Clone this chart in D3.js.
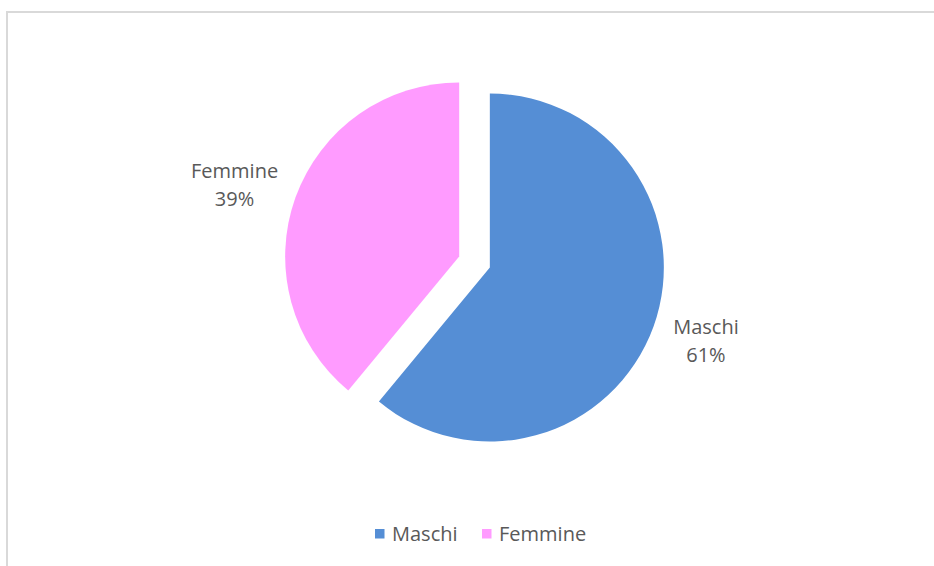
<!DOCTYPE html>
<html><head><meta charset="utf-8">
<script src="https://cdn.jsdelivr.net/npm/d3@7"></script>
<style>body{margin:0;background:#fff}svg{display:block}</style>
</head><body>
<svg id="c" width="934" height="566"></svg>
<script>
const categories = ["Maschi", "Femmine"];
const values = [61, 39];
const labels = ["61%", "39%"];
const colors = ["#558ED5", "#FF9BFF"];

const svg = d3.select("#c");
svg.append("rect").attr("x", 7).attr("y", 12).attr("width", 940).attr("height", 600)
  .attr("fill", "none").attr("stroke", "#d9d9d9").attr("stroke-width", 2);

const cx = 474.5, cy = 262, r = 174, explode = 16.3;
const labelRx = [246, 255], labelRy = 229;
const pie = d3.pie().sort(null).value(d => d)(values);
const arc = d3.arc().innerRadius(0).outerRadius(r);
const offArc = d3.arc().innerRadius(explode).outerRadius(explode);
const mid = d => (d.startAngle + d.endAngle) / 2;

const g = svg.append("g").attr("transform", `translate(${cx},${cy})`);
g.selectAll("path").data(pie).join("path")
  .attr("d", arc)
  .attr("fill", (d, i) => colors[i])
  .attr("transform", d => { const [x, y] = offArc.centroid(d); return `translate(${x},${y})`; });

const font = "'Open Sans', sans-serif";
const lab = g.selectAll("text.lab").data(pie).join("text").attr("class", "lab")
  .attr("text-anchor", "middle").attr("font-family", font).attr("font-size", 20).attr("fill", "#595959")
  .attr("transform", (d, i) => `translate(${Math.sin(mid(d)) * labelRx[i]},${-Math.cos(mid(d)) * labelRy})`);
lab.append("tspan").attr("x", 0).attr("y", -6).text((d, i) => categories[i]);
lab.append("tspan").attr("x", 0).attr("y", 22).text((d, i) => labels[i]);

const legX = [375, 482];
const leg = svg.append("g");
categories.forEach((c, i) => {
  leg.append("rect").attr("x", legX[i]).attr("y", 529).attr("width", 9.5).attr("height", 9.5).attr("fill", colors[i]);
  leg.append("text").attr("x", legX[i] + 17).attr("y", 541).attr("font-family", font)
    .attr("font-size", 20).attr("fill", "#595959").text(c);
});
</script>
</body></html>
